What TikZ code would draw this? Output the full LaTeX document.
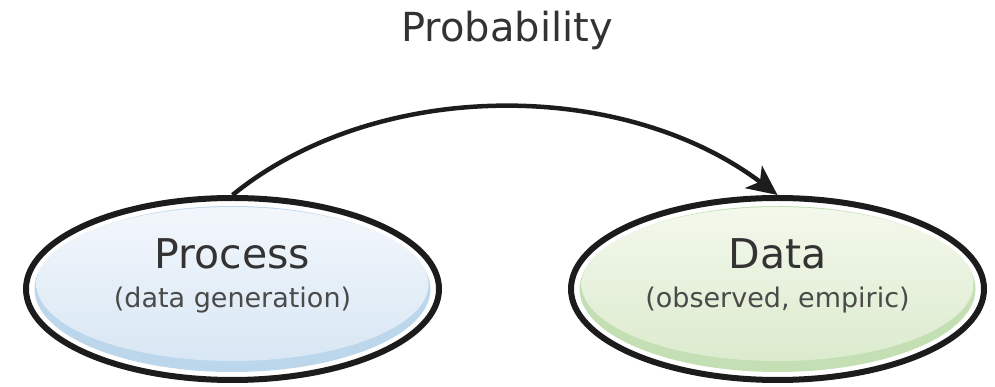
\documentclass[tikz,border=0pt]{standalone}
\usepackage{fontspec}
\setmainfont{DejaVu Sans}
\usepackage{tikz}
\usetikzlibrary{shapes.geometric, arrows.meta, positioning}
\definecolor{inkline}{HTML}{1C1C1C}
\definecolor{inktext}{HTML}{333333}
\definecolor{inksub}{HTML}{4A4A4A}
\definecolor{bluetop}{HTML}{F3F7FC}
\definecolor{bluelow}{HTML}{D8E7F4}
\definecolor{blueband}{HTML}{BCD6EC}
\definecolor{greentop}{HTML}{F3F8EC}
\definecolor{greenlow}{HTML}{DCEBCE}
\definecolor{greenband}{HTML}{C5DFB5}
\tikzstyle{disc} = [ellipse,
inner sep=0pt,
minimum width=413pt,
minimum height=182pt,
draw=inkline,
line width=6pt]
\tikzstyle{procdisc} = [disc,
path picture={
\fill[blueband] (path picture bounding box.center) ellipse [x radius=198pt, y radius=83pt];
\shade[top color=bluetop, bottom color=bluelow] ([yshift=5pt]path picture bounding box.center) ellipse [x radius=196pt, y radius=77pt];
}]
\tikzstyle{datadisc} = [disc,
path picture={
\fill[greenband] (path picture bounding box.center) ellipse [x radius=198pt, y radius=83pt];
\shade[top color=greentop, bottom color=greenlow] ([yshift=5pt]path picture bounding box.center) ellipse [x radius=196pt, y radius=77pt];
}]
\tikzstyle{heading} = [anchor=base, text=inktext, font=\fontsize{41}{46}\selectfont]
\tikzstyle{subheading} = [anchor=base, text=inksub, font=\fontsize{27}{32}\selectfont]
\tikzstyle{arrow} = [line width=4.5pt, draw=inkline, -{Stealth[length=30pt, width=28pt, inset=8pt]}]

\begin{document}
\begin{tikzpicture}[x=1pt, y=1pt, node distance=545pt]
            \useasboundingbox (0,0) rectangle (995,387);
            \node (proc) [procdisc] at (232.5,98) {};
            \node (data) [datadisc, right of=proc] {};
            \node (title) [anchor=base, text=inktext, font=\fontsize{40}{45}\selectfont] at (507,345) {Probability};

            \node (proctitle) [heading] at ([yshift=20pt]proc.center) {Process};
            \node (procsub) [subheading] at ([yshift=-19pt]proc.center) {(data generation)};
            \node (datatitle) [heading] at ([yshift=20pt]data.center) {Data};
            \node (datasub) [subheading] at ([yshift=-19pt]data.center) {(observed, empiric)};

            \draw [arrow] (proc.north) .. controls +(144,117) and +(-155,117) .. (data.north);
        \end{tikzpicture}
\end{document}
